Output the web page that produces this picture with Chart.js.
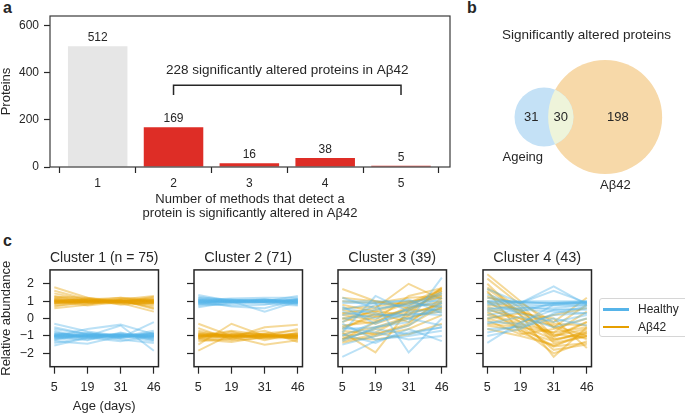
<!DOCTYPE html>
<html>
<head>
<meta charset="utf-8">
<script src="https://cdn.jsdelivr.net/npm/chart.js@4"></script>
<style>
  body { margin: 0; width: 685px; height: 414px; position: relative; overflow: hidden; background: #fff;
         font-family: "Liberation Sans", Arial, sans-serif; color: #262626; }
  canvas { position: absolute; }
  .tag { position: absolute; font-weight: bold; font-size: 16px; line-height: 16px; }
  #legend { position: absolute; left: 599px; top: 298px; width: 92px; height: 37px; border: 1px solid #d6d6d6;
            border-radius: 3px; font-size: 12px; }
  #legend div { position: absolute; left: 38px; }
  #legend span { position: absolute; left: -35px; top: 6px; width: 26px; height: 2.5px; }
</style>
</head>
<body>
<div class="tag" style="left:3px;top:0px">a</div>
<div class="tag" style="left:467px;top:0px">b</div>
<div class="tag" style="left:3px;top:233px">c</div>

<canvas id="chartMethods" width="460" height="222" style="left:0;top:0"></canvas>
<canvas id="chartVenn" width="197" height="210" style="left:488px;top:0"></canvas>
<canvas id="chartC1" width="168" height="174" style="left:0;top:240px"></canvas>
<canvas id="chartC2" width="168" height="174" style="left:144px;top:240px"></canvas>
<canvas id="chartC3" width="168" height="174" style="left:288px;top:240px"></canvas>
<canvas id="chartC4" width="168" height="174" style="left:433px;top:240px"></canvas>
<div id="legend"></div>

<script>
/* a: number of methods that flag each protein */
const METHODS = [1, 2, 3, 4, 5];
const PROTEINS = [512, 169, 16, 38, 5];
const PROTEIN_TICKS = [0, 200, 400, 600];
const BRACKET_SPAN = [2, 5];
const BRACKET_LEVEL = [305, 347];
const BRACKET_TEXT = '228 significantly altered proteins in Aβ42';

/* b: venn counts */
const VENN_SETS = ['Ageing', 'Aβ42'];
const VENN_ONLY = [31, 198];
const VENN_BOTH = 30;
const VENN_GAP = 16.2; // distance between set centres, in sqrt(protein) units

/* c: cluster profiles, one row per protein, values at each age */
const AGES = [5, 19, 31, 46];
const ABUNDANCE_TICKS = [-2, -1, 0, 1, 2];
const CLUSTER_N = [75, 71, 39, 43];
const GROUPS = ['Healthy', 'Aβ42'];

const C1_HEALTHY = [
  [-0.3, -0.75, -1.0, -1.0], [-0.5, -0.9, -0.9, -1.2], [-1.55, -1.1, -0.95, -0.85], [-1.3, -1.45, -1.0, -0.9],
  [-1.0, -0.6, -0.35, -0.9], [-0.8, -1.0, -0.4, -1.85], [-1.1, -0.95, -1.1, -0.2], [-0.9, -1.05, -1.2, -1.4],
  [-1.2, -0.85, -1.0, -0.95], [-0.7, -1.2, -0.85, -1.05], [-1.0, -1.0, -0.95, -1.1], [-1.4, -1.1, -1.3, -1.0],
  [-0.6, -0.9, -1.05, -0.7], [-1.05, -1.25, -0.8, -1.25], [-0.95, -0.8, -1.15, -0.8], [-1.25, -1.0, -1.0, -1.3],
  [-1.0, -1.0, -1.0, -1.0], [-0.9, -0.95, -1.05, -0.95], [-1.1, -1.05, -0.95, -1.05], [-0.95, -1.0, -0.9, -1.1],
  [-1.05, -0.9, -1.0, -0.9], [-0.85, -1.05, -1.1, -1.0], [-1.15, -0.95, -0.95, -1.15], [-1.0, -1.1, -1.05, -0.85],
];
const C1_AB42 = [
  [1.6, 1.1, 0.95, 0.9], [1.45, 1.05, 1.0, 0.7], [1.3, 1.0, 1.05, 0.55], [1.8, 1.2, 0.9, 0.4],
  [1.1, 1.0, 1.1, 1.0], [0.9, 1.0, 1.0, 1.1], [0.75, 0.9, 0.95, 1.2], [0.6, 0.8, 1.1, 1.3],
  [1.0, 0.95, 0.85, 1.0], [1.2, 1.05, 0.95, 0.8], [0.85, 1.1, 1.2, 0.95], [1.0, 0.75, 0.95, 1.25],
  [0.95, 1.15, 0.8, 0.9], [1.15, 0.95, 1.0, 1.05], [0.7, 1.0, 1.2, 1.1], [1.05, 0.85, 1.05, 0.6],
  [1.25, 1.2, 1.0, 0.85], [1.0, 1.0, 1.0, 0.95], [0.9, 0.95, 1.05, 1.0], [1.1, 1.05, 0.95, 1.05],
  [0.95, 1.0, 0.9, 0.9], [1.05, 0.9, 1.0, 1.1], [0.85, 1.0, 1.05, 1.0], [1.0, 1.1, 1.0, 0.95],
];
const C2_HEALTHY = [
  [1.35, 1.0, 0.95, 0.9], [1.2, 1.1, 1.05, 0.8], [0.65, 0.95, 1.0, 1.3], [0.8, 1.0, 0.4, 1.0],
  [1.0, 0.7, 0.6, 1.1], [0.9, 1.05, 1.1, 0.95], [1.1, 0.9, 1.0, 1.05], [0.95, 1.0, 0.85, 0.75],
  [1.05, 1.15, 1.2, 1.2], [0.75, 0.85, 0.95, 0.9], [1.25, 1.0, 1.1, 1.0], [0.85, 0.75, 0.8, 1.15],
  [1.0, 1.1, 0.95, 0.85], [1.15, 0.95, 1.05, 1.1], [1.0, 1.0, 1.0, 1.0], [0.9, 0.95, 1.05, 0.95],
  [1.1, 1.05, 0.95, 1.05], [0.95, 1.0, 1.1, 0.9], [1.05, 0.95, 1.0, 1.1], [0.85, 1.05, 0.95, 1.0],
];
const C2_AB42 = [
  [-0.3, -1.0, -1.1, -1.0], [-1.85, -0.9, -1.0, -1.05], [-1.5, -0.3, -1.0, -0.9], [-1.0, -1.1, -0.5, -0.35],
  [-0.55, -1.2, -0.9, -1.2], [-1.1, -0.75, -1.25, -0.8], [-0.8, -1.0, -0.7, -1.35], [-1.2, -1.35, -1.05, -0.95],
  [-0.9, -0.95, -1.15, -1.1], [-1.05, -0.85, -0.9, -1.0], [-1.3, -1.15, -0.85, -0.7], [-0.7, -1.05, -1.5, -1.25],
  [-1.0, -0.7, -0.95, -1.15], [-1.15, -1.25, -1.1, -0.85], [-0.95, -1.0, -1.0, -0.6], [-1.0, -1.0, -1.0, -1.0],
  [-0.9, -1.05, -0.95, -1.05], [-1.1, -0.95, -1.05, -0.95], [-0.95, -1.1, -1.0, -1.1], [-1.05, -0.9, -0.9, -0.9],
  [-0.85, -1.0, -1.05, -1.0], [-1.15, -1.05, -0.95, -1.1],
];
const C3_HEALTHY = [
  [-1.3, -0.5, -0.2, 2.35], [-2.2, -1.3, -0.8, -0.5], [-0.8, 1.3, 0.4, 0.5], [0.9, 0.9, -1.95, 0.0],
  [1.0, 1.0, 1.0, 1.0], [-0.5, -0.8, -1.2, -1.0], [0.4, 0.0, 0.5, 1.2], [-1.0, -0.2, 0.3, 0.2],
  [0.6, 0.3, 0.0, -0.4], [-1.5, -1.0, -0.4, 0.9], [0.2, 0.5, 0.9, 0.7], [-0.3, -1.2, -1.0, -0.7],
  [0.7, -0.3, 0.6, 1.4], [-0.2, 0.8, 1.1, 0.3], [1.2, 0.6, 0.8, 1.5], [-0.9, -1.4, -0.6, -1.3],
  [0.0, 0.2, 0.2, 0.4], [-0.6, -0.5, 0.0, 0.7], [0.5, 0.9, 0.7, 0.9], [-1.2, -0.6, -0.9, -0.5],
];
const C3_AB42 = [
  [1.7, 1.0, 0.6, 1.0], [-1.0, -0.8, 0.2, 1.8], [-1.3, -0.9, -0.3, 1.2], [-0.8, -1.95, 0.5, 1.5],
  [0.3, 0.6, 2.0, 1.1], [-1.2, -0.2, 0.7, 1.7], [0.5, 0.2, 0.9, 1.4], [-0.5, 0.1, 0.4, 1.6],
  [1.0, 0.9, 1.2, 1.3], [-1.4, -1.0, -0.6, 0.2], [0.0, -0.3, 0.3, 0.8], [-0.2, 0.5, 1.0, 0.6],
  [0.8, 0.4, 0.2, 0.9], [-0.9, -0.5, 0.1, 0.4], [-1.1, -1.2, -0.9, -0.3], [0.2, -0.1, 1.3, 1.75],
  [-0.6, 0.3, -0.2, 1.0], [1.2, 1.0, 0.8, 1.6], [0.0, 0.4, 0.9, 1.7], [-1.2, -0.6, 0.0, 0.6],
  [0.6, 0.7, 1.0, 1.2], [-0.4, -0.2, 0.6, 1.3], [0.3, 0.1, 0.5, 0.5], [-0.7, -0.9, -0.4, 0.7],
];
const C4_HEALTHY = [
  [1.7, 0.9, 1.85, 0.8], [1.2, 0.9, 1.6, 0.9], [0.8, 0.9, 0.9, 0.9], [1.0, 0.95, 0.85, 0.9],
  [0.5, 0.8, 0.75, 0.75], [-1.4, -0.2, 0.5, 0.6], [-1.0, -0.6, 0.3, 0.7], [0.2, 0.5, 0.4, 0.3],
  [-0.3, 0.1, -0.5, 0.0], [1.4, 0.7, 0.5, 0.5], [0.0, 0.4, 0.9, 1.0], [-0.6, -0.5, 0.0, -0.4],
  [0.9, 0.3, -0.2, 0.2], [0.6, 0.6, 0.6, 0.8], [-0.2, -0.3, 0.8, 0.95], [1.0, 1.0, 1.0, 1.0],
  [0.9, 0.95, 0.9, 0.95], [0.4, 0.6, 0.8, 0.85], [-0.8, -0.4, 0.2, 0.3],
];
const C4_AB42 = [
  [2.55, 1.0, -0.5, 0.8], [2.3, 0.8, -1.0, -0.6], [1.8, 0.6, -1.4, -1.0], [1.5, 0.2, -2.2, -0.5],
  [1.2, 0.9, -0.2, 1.2], [1.0, -0.2, -1.8, -1.5], [0.8, 0.5, -0.5, -1.2], [0.5, 0.0, -1.0, -0.2],
  [0.2, -0.4, -1.2, -0.8], [0.0, 0.3, 0.0, -1.7], [-0.3, -0.5, -0.8, 0.4], [-0.6, -1.0, -1.5, -1.0],
  [1.3, 0.4, -0.3, -0.4], [0.4, -0.6, -2.0, -1.3], [-0.1, -0.9, -0.6, 0.0], [2.0, 0.2, -0.9, -1.1],
  [0.6, -0.2, 0.2, 0.6], [1.6, -0.8, -1.6, -0.8], [1.0, 0.5, -1.2, -0.9], [0.3, -0.3, -0.8, -0.5],
  [1.7, 0.4, -1.1, -0.2], [0.0, -0.5, -1.6, -1.4], [0.7, 0.0, -0.4, -1.0], [-0.4, -0.7, -1.3, -0.7],
];
const HEALTHY = [C1_HEALTHY, C2_HEALTHY, C3_HEALTHY, C4_HEALTHY];
const AB42 = [C1_AB42, C2_AB42, C3_AB42, C4_AB42];

const TEXT = '#262626';
const GREY = '#e6e6e6';
const RED = '#de2d26';
const BLUE = '#56b4e9';
const ORANGE = '#e69f00';
const VENN_COLORS = ['#c4e1f6', '#f7d9a9'];
const VENN_OVERLAP = '#eef4da';
const FONT = '"Liberation Sans", Arial, sans-serif';

Chart.defaults.font.family = FONT;
Chart.defaults.color = TEXT;
Chart.defaults.animation = false;
Chart.defaults.events = [];
Chart.defaults.plugins.legend.display = false;
Chart.defaults.plugins.tooltip.enabled = false;

const framePlugin = {
  id: 'frame',
  afterDraw(chart, args, opts) {
    const { left, top, right, bottom } = chart.chartArea;
    const ctx = chart.ctx;
    ctx.save();
    ctx.strokeStyle = opts.color || TEXT;
    ctx.lineWidth = opts.width || 1.2;
    ctx.strokeRect(left, top, right - left, bottom - top);
    ctx.restore();
  },
};

const tickGrid = (len) => ({ drawOnChartArea: false, drawTicks: true, tickLength: len, tickColor: TEXT, tickWidth: 1.2 });
const minus = (v) => String(v).replace('-', '\u2212');

/* ---- a ---- */
const barLabels = {
  id: 'barLabels',
  afterDatasetsDraw(chart) {
    const { ctx, scales: { x, y } } = chart;
    ctx.save();
    ctx.fillStyle = TEXT;
    ctx.font = '12px ' + FONT;
    ctx.textAlign = 'center';
    ctx.textBaseline = 'middle';
    chart.getDatasetMeta(0).data.forEach((bar, i) => ctx.fillText(PROTEINS[i], bar.x, bar.y - 8.5));

    const x0 = x.getPixelForValue(BRACKET_SPAN[0]);
    const x1 = x.getPixelForValue(BRACKET_SPAN[1]);
    const yLow = y.getPixelForValue(BRACKET_LEVEL[0]);
    const yTop = y.getPixelForValue(BRACKET_LEVEL[1]);
    ctx.strokeStyle = TEXT;
    ctx.lineWidth = 1.5;
    ctx.beginPath();
    ctx.moveTo(x0, yLow); ctx.lineTo(x0, yTop); ctx.lineTo(x1, yTop); ctx.lineTo(x1, yLow);
    ctx.stroke();
    ctx.font = '13.5px ' + FONT;
    ctx.fillText(BRACKET_TEXT, (x0 + x1) / 2, yTop - 14.5);
    ctx.restore();
  },
};

new Chart(document.getElementById('chartMethods'), {
  type: 'bar',
  data: {
    datasets: [{
      data: METHODS.map((m, i) => ({ x: m, y: PROTEINS[i] })),
      backgroundColor: METHODS.map((m) => (m < 2 ? GREY : RED)),
      barPercentage: 0.785,
      categoryPercentage: 1,
    }],
  },
  options: {
    responsive: false,
    layout: { padding: { top: 16, right: 10 } },
    plugins: { frame: { color: '#3a3a3a', width: 1.2 } },
    scales: {
      x: {
        type: 'linear', min: 0.371, max: 5.646, offset: false,
        afterBuildTicks: (s) => { s.ticks = METHODS.map((v) => ({ value: v })); },
        afterFit: (s) => { s.height = 55; },
        ticks: { padding: 3, font: { size: 12 } },
        grid: tickGrid(6), border: { display: false },
        title: {
          display: true,
          text: ['Number of methods that detect a', 'protein is significantly altered in Aβ42'],
          font: { size: 13, lineHeight: 1.05 }, padding: { top: 0, bottom: 1.7 },
        },
      },
      y: {
        min: 0, max: 640,
        afterBuildTicks: (s) => { s.ticks = PROTEIN_TICKS.map((v) => ({ value: v })); },
        afterFit: (s) => { s.width = 50; },
        ticks: { padding: 5, font: { size: 12 } },
        grid: tickGrid(6), border: { display: false },
        title: { display: true, text: 'Proteins', font: { size: 13, lineHeight: 1 }, padding: 0 },
      },
    },
  },
  plugins: [framePlugin, barLabels],
});

/* ---- b ---- */
const VENN_X = [-14.83, 37.35];
const VENN_Y = [-24.64, 19.58];
const vennCanvas = document.getElementById('chartVenn');
const pxPerUnit = vennCanvas.width / (VENN_X[1] - VENN_X[0]); // x axis spans the whole canvas
const totals = [VENN_ONLY[0] + VENN_BOTH, VENN_ONLY[1] + VENN_BOTH];

const vennLabels = {
  id: 'vennLabels',
  afterDatasetsDraw(chart) {
    const { ctx } = chart;
    const [a, b] = [0, 1].map((i) => chart.getDatasetMeta(i).data[0]);
    const ra = a.options.radius, rb = b.options.radius;
    ctx.save();
    ctx.beginPath(); ctx.arc(a.x, a.y, ra, 0, Math.PI * 2); ctx.clip();
    ctx.beginPath(); ctx.arc(b.x, b.y, rb, 0, Math.PI * 2);
    ctx.fillStyle = VENN_OVERLAP; ctx.fill();
    ctx.restore();

    ctx.save();
    ctx.fillStyle = TEXT;
    ctx.textAlign = 'center';
    ctx.textBaseline = 'middle';
    ctx.font = '13px ' + FONT;
    const aL = a.x - ra, aR = a.x + ra, bL = b.x - rb, bR = b.x + rb;
    ctx.fillText(VENN_ONLY[0], (aL + bL) / 2, a.y);
    ctx.fillText(VENN_BOTH, (bL + aR) / 2, a.y);
    ctx.fillText(VENN_ONLY[1], (aR + bR) / 2, b.y);
    ctx.fillText(VENN_SETS[0], a.x - 0.72 * ra, a.y + ra + 11);
    ctx.fillText(VENN_SETS[1], b.x + 0.18 * rb, b.y + rb + 11);
    ctx.restore();
  },
};

new Chart(vennCanvas, {
  type: 'bubble',
  data: {
    datasets: totals.map((t, i) => ({
      data: [{ x: i * VENN_GAP, y: 0, r: Math.sqrt(t) * pxPerUnit }],
      backgroundColor: VENN_COLORS[i],
      borderWidth: 0,
      clip: false,
    })),
  },
  options: {
    responsive: false,
    layout: { padding: 0, autoPadding: false },
    plugins: {
      title: {
        display: true, text: 'Significantly altered proteins', color: TEXT,
        font: { size: 13.5, weight: 'normal' }, padding: { top: 26.9, bottom: 0 },
      },
    },
    scales: {
      x: { display: false, min: VENN_X[0], max: VENN_X[1] },
      y: { display: false, min: VENN_Y[0], max: VENN_Y[1] },
    },
  },
  plugins: [vennLabels],
});

/* ---- c ---- */
const toLine = (color) => (vals) => ({
  data: vals.map((y, i) => ({ x: i, y })),
  borderColor: color, borderWidth: 2, pointRadius: 0, tension: 0, fill: false,
});

function clusterChart(id, k) {
  const first = k === 0;
  const title = first ? `Cluster 1 (n = ${CLUSTER_N[0]})` : `Cluster ${k + 1} (${CLUSTER_N[k]})`;
  new Chart(document.getElementById(id), {
    type: 'line',
    data: {
      datasets: [
        ...HEALTHY[k].map(toLine('rgba(86,180,233,0.4)')),
        ...AB42[k].map(toLine('rgba(230,159,0,0.4)')),
      ],
    },
    options: {
      responsive: false,
      layout: { padding: { right: 6 } },
      plugins: {
        title: {
          display: true, text: title, fullSize: false, color: TEXT,
          font: { size: 14.5, weight: 'normal' }, padding: { top: 8.9, bottom: 3.6 },
        },
        frame: { color: TEXT, width: 1.5 },
      },
      scales: {
        x: {
          type: 'linear', min: -0.13, max: 3.14,
          afterBuildTicks: (s) => { s.ticks = AGES.map((_, i) => ({ value: i })); },
          afterFit: (s) => { s.height = 47.3; },
          ticks: { callback: (v) => AGES[v], padding: 6.8, font: { size: 12.5 }, maxRotation: 0, autoSkip: false },
          grid: tickGrid(7), border: { display: false },
          title: { display: first, text: 'Age (days)', font: { size: 13 }, padding: 0 },
        },
        y: {
          min: -2.77, max: 2.8,
          afterBuildTicks: (s) => { s.ticks = ABUNDANCE_TICKS.map((v) => ({ value: v })); },
          afterFit: (s) => { s.width = 50; },
          ticks: { callback: (v) => (first ? minus(v) : ''), padding: 9, font: { size: 12.5 } },
          grid: tickGrid(7), border: { display: false },
          title: { display: first, text: 'Relative abundance', font: { size: 13, lineHeight: 1 }, padding: 0 },
        },
      },
    },
    plugins: [framePlugin],
  });
}
['chartC1', 'chartC2', 'chartC3', 'chartC4'].forEach(clusterChart);

/* legend */
const legend = document.getElementById('legend');
GROUPS.forEach((g, i) => {
  const row = document.createElement('div');
  row.style.top = (3 + i * 17.5) + 'px';
  row.textContent = g;
  const swatch = document.createElement('span');
  swatch.style.background = [BLUE, ORANGE][i];
  row.appendChild(swatch);
  legend.appendChild(row);
});
</script>
</body>
</html>
